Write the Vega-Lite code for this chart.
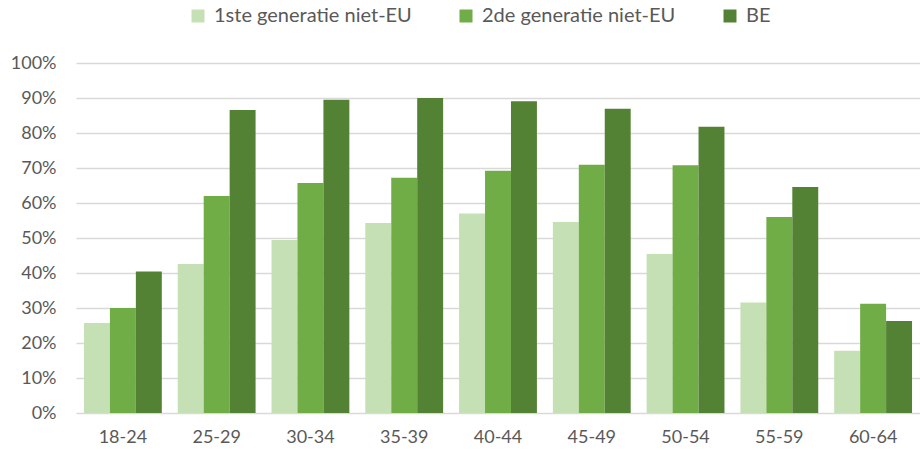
{
  "$schema": "https://vega.github.io/schema/vega-lite/v6.json",
  "autosize": "none",
  "width": 844,
  "height": 350,
  "padding": {"left": 76, "top": 63, "right": 0, "bottom": 37},
  "background": "white",
  "config": {
    "view": {"stroke": null},
    "font": "Lato"
  },
  "data": {
    "values": [
      {"age": "18-24", "groep": "1ste generatie niet-EU", "v": 0.257},
      {"age": "18-24", "groep": "2de generatie niet-EU", "v": 0.300},
      {"age": "18-24", "groep": "BE", "v": 0.404},
      {"age": "25-29", "groep": "1ste generatie niet-EU", "v": 0.426},
      {"age": "25-29", "groep": "2de generatie niet-EU", "v": 0.620},
      {"age": "25-29", "groep": "BE", "v": 0.866},
      {"age": "30-34", "groep": "1ste generatie niet-EU", "v": 0.494},
      {"age": "30-34", "groep": "2de generatie niet-EU", "v": 0.657},
      {"age": "30-34", "groep": "BE", "v": 0.895},
      {"age": "35-39", "groep": "1ste generatie niet-EU", "v": 0.543},
      {"age": "35-39", "groep": "2de generatie niet-EU", "v": 0.672},
      {"age": "35-39", "groep": "BE", "v": 0.900},
      {"age": "40-44", "groep": "1ste generatie niet-EU", "v": 0.570},
      {"age": "40-44", "groep": "2de generatie niet-EU", "v": 0.692},
      {"age": "40-44", "groep": "BE", "v": 0.891},
      {"age": "45-49", "groep": "1ste generatie niet-EU", "v": 0.546},
      {"age": "45-49", "groep": "2de generatie niet-EU", "v": 0.709},
      {"age": "45-49", "groep": "BE", "v": 0.869},
      {"age": "50-54", "groep": "1ste generatie niet-EU", "v": 0.454},
      {"age": "50-54", "groep": "2de generatie niet-EU", "v": 0.708},
      {"age": "50-54", "groep": "BE", "v": 0.818},
      {"age": "55-59", "groep": "1ste generatie niet-EU", "v": 0.316},
      {"age": "55-59", "groep": "2de generatie niet-EU", "v": 0.560},
      {"age": "55-59", "groep": "BE", "v": 0.646},
      {"age": "60-64", "groep": "1ste generatie niet-EU", "v": 0.178},
      {"age": "60-64", "groep": "2de generatie niet-EU", "v": 0.312},
      {"age": "60-64", "groep": "BE", "v": 0.263}
    ]
  },
  "mark": {"type": "bar"},
  "encoding": {
    "x": {
      "field": "age", "type": "nominal", "sort": null,
      "scale": {"paddingInner": 0.17, "paddingOuter": 0.085},
      "axis": {
        "title": null, "labelAngle": 0, "ticks": false, "domain": false,
        "labelFontSize": 18, "labelColor": "#595959", "labelPadding": 15
      }
    },
    "xOffset": {"field": "groep", "type": "nominal", "sort": null},
    "y": {
      "field": "v", "type": "quantitative",
      "scale": {"domain": [0, 1], "nice": false},
      "axis": {
        "title": null, "format": ".0%", "values": [0, 0.1, 0.2, 0.3, 0.4, 0.5, 0.6, 0.7, 0.8, 0.9, 1],
        "ticks": false, "domain": false, "grid": true, "gridColor": "#D9D9D9", "gridWidth": 1.5,
        "labelFontSize": 18, "labelColor": "#595959", "labelPadding": 20
      }
    },
    "color": {
      "field": "groep", "type": "nominal", "sort": null,
      "scale": {
        "domain": ["1ste generatie niet-EU", "2de generatie niet-EU", "BE"],
        "range": ["#C5E0B4", "#70AD47", "#548235"]
      },
      "legend": {
        "title": null, "orient": "none", "direction": "horizontal",
        "legendX": 112, "legendY": -57,
        "symbolType": "square", "symbolSize": 169, "symbolStrokeWidth": 0, "symbolOpacity": 1,
        "labelFontSize": 20, "labelColor": "#595959", "labelLimit": 0, "columnPadding": 44, "labelOffset": 6
      }
    }
  }
}
